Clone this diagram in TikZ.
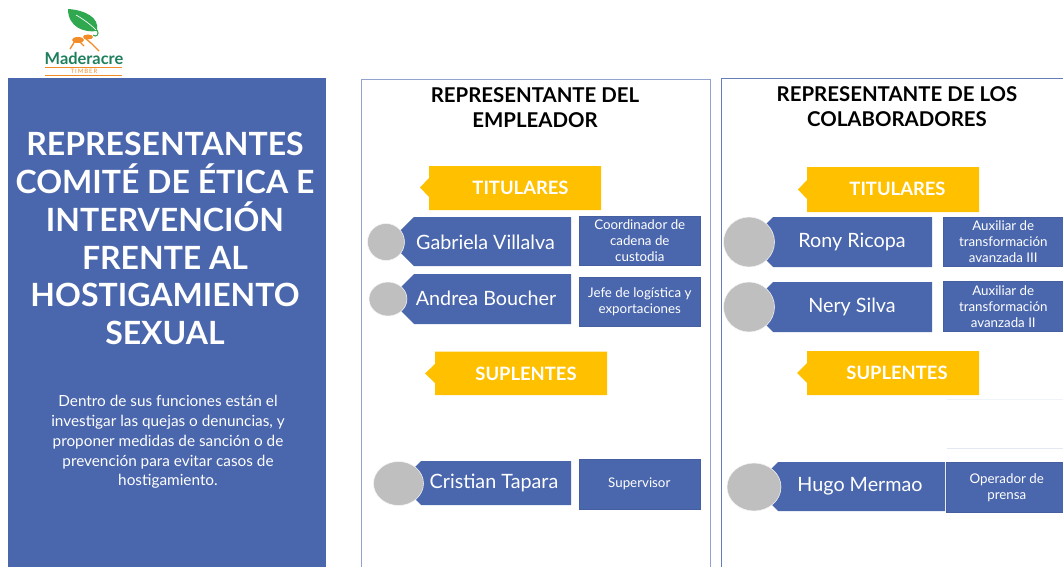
\documentclass[tikz,border=0pt]{standalone}
\usepackage{fontspec}
\setmainfont{Lato}
\usetikzlibrary{positioning}
\definecolor{ComiteBlue}{HTML}{4A66AC}
\definecolor{TagGold}{HTML}{FFC000}
\definecolor{PhotoGray}{HTML}{BFBFBF}
\definecolor{LeafGreen}{HTML}{2FA84F}
\definecolor{LogoGreen}{HTML}{1E7F5C}
\definecolor{AntOrange}{HTML}{F28C28}
\tikzset{
    panelline/.style={draw=#1, line width=0.7pt},
    heading/.style={align=center, inner sep=0pt, font=\fontsize{15.3}{18.8}\selectfont\bfseries},
    tagfill/.style={fill=TagGold},
    taglabel/.style={inner sep=0pt, text=white, font=\fontsize{13.8}{15}\selectfont\bfseries},
    namefill/.style={fill=ComiteBlue},
    namelabel/.style={inner sep=0pt, text=white, font=\fontsize{14.8}{16}\selectfont},
    photo/.style={ellipse, draw=white!85!PhotoGray, fill=PhotoGray, line width=0.4pt, inner sep=0pt},
    rolebox/.style={rectangle, draw=ComiteBlue!93!black, line width=0.4pt, fill=ComiteBlue, anchor=north west,
        inner sep=0pt, align=center, text=white, font=\fontsize{10}{12}\selectfont}
}
\usetikzlibrary{shapes.geometric}
\begin{document}
\begin{tikzpicture}[x=0.75pt, y=-0.75pt]
    \useasboundingbox (0,0) rectangle (1063,567);

    % logo
    \fill[LeafGreen] (68,9) .. controls (84,10) and (100,17) .. (97,31) .. controls (84,33) and (68,27) .. (68,9) -- cycle;
    \draw[white, line width=0.5pt] (76,15) .. controls (83,19) and (90,24) .. (96,30);
    \draw[LeafGreen, line width=0.8pt] (97,30) .. controls (100,34) and (96,38) .. (93,35);
    \fill[AntOrange] (78,40) ellipse [x radius=6, y radius=3];
    \fill[AntOrange] (88,37) ellipse [x radius=5, y radius=2.5];
    \draw[AntOrange, line width=1pt] (75,41) -- (70,49) (80,42) -- (84,46) (85,38) -- (92,44) -- (99,51);
    \node[inner sep=0pt, text=LogoGreen, font=\fontsize{12.3}{14}\selectfont\bfseries] (logoname) at (84,58) {Maderacre};
    \node[inner sep=0pt, text=AntOrange, font=\fontsize{4.5}{5}\selectfont] (logosub) at (84,71.5) {T\,I\,M\,B\,E\,R};
    \draw[AntOrange, line width=0.7pt] (45,67.5) -- (122,67.5) (45,75) -- (122,75);

    % left column
    \fill[ComiteBlue] (8,78) rectangle (326,567);
    \node[align=center, inner sep=0pt, text=white, font=\fontsize{24}{28.4}\selectfont\bfseries] (title) at (165,238.5)
        {REPRESENTANTES\\COMITÉ DE ÉTICA E\\INTERVENCIÓN\\FRENTE AL\\HOSTIGAMIENTO\\SEXUAL};
    \node[align=center, inner sep=0pt, text=white, font=\fontsize{11.5}{14.85}\selectfont] (funciones) at (168,442)
        {Dentro de sus funciones están el\\investigar las quejas o denuncias, y\\proponer medidas de sanción o de\\prevención para evitar casos de\\hostigamiento.};

    % panels
    \draw[panelline=ComiteBlue!60] (361,567) -- (361,79) -- (710,79) -- (710,567);
    \draw[panelline=ComiteBlue!85] (721,567) -- (721,78) -- (1063,78);
    \node[heading] (empleador) at (535,107.5) {REPRESENTANTE DEL\\EMPLEADOR};
    \node[heading] (colaboradores) at (897,106.5) {REPRESENTANTE DE LOS\\COLABORADORES};

    % faint lines
    \draw[ComiteBlue!8, line width=0.5pt] (947,399) -- (1063,399);
    \draw[ComiteBlue!15, line width=0.5pt] (947,448) -- (1063,448);

    % gold tags
    \fill[tagfill] (429,166) -- (601,166) -- (601,210) -- (429,210) -- (429,197) -- (420,187.5) -- (429,178) -- cycle;
    \fill[tagfill] (435,351.5) -- (607,351.5) -- (607,395) -- (435,395) -- (435,383) -- (425,373.5) -- (435,364) -- cycle;
    \fill[tagfill] (807,167) -- (979,167) -- (979,212) -- (807,212) -- (807,199) -- (798,189.5) -- (807,180) -- cycle;
    \fill[tagfill] (807,351) -- (979,351) -- (979,395) -- (807,395) -- (807,383) -- (797,373) -- (807,363) -- cycle;
    \node[taglabel] (titE) at (520.5,188) {TITULARES};
    \node[taglabel] (supE) at (526,374) {SUPLENTES};
    \node[taglabel] (titC) at (897.5,189) {TITULARES};
    \node[taglabel] (supC) at (897,373) {SUPLENTES};

    % name tags
    \fill[namefill] (414,217) -- (571,217) -- (571,266) -- (414,266) -- (389,241.5) -- cycle;
    \fill[namefill] (414,274) -- (571,274) -- (571,324) -- (414,324) -- (389,299) -- cycle;
    \fill[namefill] (421,461) -- (571,461) -- (571,505) -- (421,505) -- (399,483) -- cycle;
    \fill[namefill] (773,217) -- (932,217) -- (932,267) -- (773,267) -- (748,242) -- cycle;
    \fill[namefill] (773,282) -- (932,282) -- (932,332) -- (773,332) -- (748,307) -- cycle;
    \fill[namefill] (778,462) -- (945,462) -- (945,511) -- (778,511) -- (754,486.5) -- cycle;
    \node[namelabel] (gabriela) at (485.5,242) {Gabriela Villalva};
    \node[namelabel] (andrea) at (486,298.5) {Andrea Boucher};
    \node[namelabel] (cristian) at (494,483) {Cristian Tapara};
    \node[namelabel] (rony) at (852,242) {Rony Ricopa};
    \node[namelabel] (nery) at (852,307) {Nery Silva};
    \node[namelabel] (hugo) at (860,486.5) {Hugo Mermao};

    % photos
    \node[photo, minimum width=37*0.75pt, minimum height=37*0.75pt] (fotoG) at (386,242) {};
    \node[photo, minimum width=38*0.75pt, minimum height=34*0.75pt] (fotoA) at (388,299) {};
    \node[photo, minimum width=50*0.75pt, minimum height=44*0.75pt] (fotoT) at (398.5,483.5) {};
    \node[photo, minimum width=51*0.75pt, minimum height=50*0.75pt] (fotoR) at (749,242) {};
    \node[photo, minimum width=51*0.75pt, minimum height=50*0.75pt] (fotoN) at (749,307) {};
    \node[photo, minimum width=54*0.75pt, minimum height=48*0.75pt] (fotoH) at (754,487) {};

    % roles
    \node[rolebox, minimum width=121*0.75pt, minimum height=49*0.75pt] (cargoG) at (579,216) {Coordinador de\\cadena de\\custodia};
    \node[rolebox, minimum width=121*0.75pt, minimum height=49.5*0.75pt] (cargoA) at (579,276.5) {Jefe de logística y\\exportaciones};
    \node[rolebox, minimum width=121*0.75pt, minimum height=50*0.75pt] (cargoT) at (578.5,459) {Supervisor};
    \node[rolebox, minimum width=120*0.75pt, minimum height=49*0.75pt] (cargoR) at (943,217) {Auxiliar de\\transformación\\avanzada III};
    \node[rolebox, minimum width=120*0.75pt, minimum height=50*0.75pt] (cargoN) at (943,281) {Auxiliar de\\transformación\\avanzada II};
    \node[rolebox, minimum width=117*0.75pt, minimum height=50*0.75pt] (cargoH) at (946,462) {\hspace*{3pt}Operador de\\\hspace*{3pt}prensa};
\end{tikzpicture}
\end{document}
